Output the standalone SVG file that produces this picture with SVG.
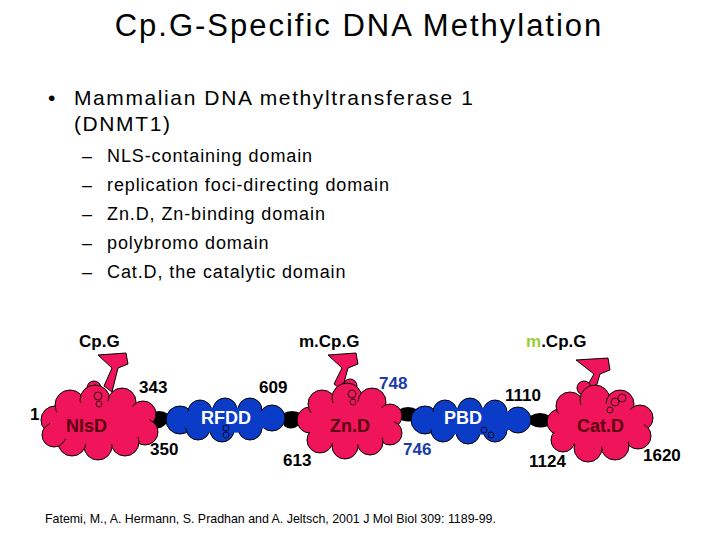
<svg xmlns="http://www.w3.org/2000/svg" width="720" height="540" viewBox="0 0 720 540">
<defs>
<style>
text{font-family:"Liberation Sans",Arial,sans-serif}
.t{font-size:18px;fill:#000;letter-spacing:0.9px}
.lb{font-size:17px;font-weight:bold;fill:#000}
.bl{font-size:17px;font-weight:bold;fill:#1a3caa}
.dn{font-size:18px;font-weight:bold;fill:#5a0010}
.dw{font-size:18px;font-weight:bold;fill:#fff}
.pk circle{fill:#f0145a;stroke:#000;stroke-width:1}
.pkf{fill:#f0145a}
.bu circle{fill:#0a3cc8;stroke:#000;stroke-width:1}
.buf{fill:#0a3cc8}
.link{fill:#000}
.dna{fill:#f0145a;stroke:#000;stroke-width:1}
.ring{fill:none;stroke:#000;stroke-width:0.8}
</style>
</defs>
<text x="359" y="36" font-size="31" text-anchor="middle" letter-spacing="2">Cp.G-Specific DNA Methylation</text>
<text x="48" y="105" font-size="21">•</text>
<text x="74" y="105" font-size="21" letter-spacing="1.6">Mammalian DNA methyltransferase 1</text>
<text x="74" y="131" font-size="21" letter-spacing="1.6">(DNMT1)</text>
<g class="t">
<text x="82" y="162">–</text><text x="107" y="162">NLS-containing domain</text>
<text x="82" y="191">–</text><text x="107" y="191">replication foci-directing domain</text>
<text x="82" y="220">–</text><text x="107" y="220">Zn.D, Zn-binding domain</text>
<text x="82" y="249">–</text><text x="107" y="249">polybromo domain</text>
<text x="82" y="278">–</text><text x="107" y="278">Cat.D, the catalytic domain</text>
</g>
<g id="connectors">
<path class="link" d="M148 414 Q160 408 168 414 L166 424 Q158 432 150 426 Z"/>
<path class="link" d="M282 414 Q292 408 302 414 L300 424 Q292 432 284 426 Z"/>
<path class="link" d="M398 410 Q408 404 418 410 L416 420 Q406 424 398 418 Z"/>
<path class="link" d="M530 416 Q540 410 550 416 L548 426 Q538 430 530 424 Z"/>
</g>
<g id="nlsd">
<path class="dna" d="M98 355 L126 353 L128 364 L118 368 L112 392 L104 386 L112 368 Z"/>
<circle class="dna" cx="94" cy="388" r="7"/>
<g class="pk">
<circle cx="55" cy="420" r="14"/><circle cx="70" cy="405" r="15"/><circle cx="95" cy="400" r="15"/><circle cx="122" cy="402" r="14"/><circle cx="143" cy="414" r="13"/><circle cx="145" cy="432" r="13"/><circle cx="125" cy="442" r="14"/><circle cx="98" cy="446" r="14"/><circle cx="72" cy="442" r="14"/><circle cx="54" cy="435" r="12"/>
</g>
<ellipse class="pkf" cx="100" cy="423" rx="50" ry="22"/>
<circle class="ring" cx="98" cy="396" r="4"/><circle class="ring" cx="99" cy="404" r="3"/>
<text x="66" y="432" class="dn">NlsD</text>
</g>
<g id="rfdd">
<g class="bu">
<circle cx="180" cy="420" r="14"/><circle cx="200" cy="412" r="12"/><circle cx="225" cy="410" r="12"/><circle cx="250" cy="410" r="12"/><circle cx="272" cy="418" r="13"/><circle cx="250" cy="428" r="12"/><circle cx="222" cy="430" r="12"/><circle cx="198" cy="428" r="12"/>
</g>
<ellipse class="buf" cx="225" cy="420" rx="50" ry="13"/>
<circle class="ring" cx="226" cy="428" r="3"/><circle class="ring" cx="226" cy="435" r="3"/>
<text x="201" y="424" class="dw">RFDD</text>
</g>
<g id="znd">
<path class="dna" d="M328 355 L356 353 L358 364 L348 368 L342 390 L334 384 L342 368 Z"/>
<circle class="dna" cx="350" cy="386" r="7"/>
<g class="pk">
<circle cx="310" cy="420" r="13"/><circle cx="322" cy="404" r="14"/><circle cx="347" cy="398" r="15"/><circle cx="372" cy="402" r="14"/><circle cx="390" cy="416" r="12"/><circle cx="390" cy="433" r="12"/><circle cx="370" cy="442" r="13"/><circle cx="345" cy="446" r="13"/><circle cx="320" cy="440" r="13"/>
</g>
<ellipse class="pkf" cx="350" cy="423" rx="44" ry="22"/>
<circle class="ring" cx="352" cy="394" r="4"/><circle class="ring" cx="353" cy="402" r="3"/>
<text x="330" y="432" class="dn">Zn.D</text>
</g>
<g id="pbd">
<g class="bu">
<circle cx="425" cy="420" r="14"/><circle cx="445" cy="412" r="12"/><circle cx="470" cy="410" r="12"/><circle cx="495" cy="412" r="12"/><circle cx="518" cy="420" r="13"/><circle cx="495" cy="430" r="12"/><circle cx="468" cy="432" r="12"/><circle cx="443" cy="430" r="12"/>
</g>
<ellipse class="buf" cx="470" cy="421" rx="50" ry="14"/>
<circle class="ring" cx="484" cy="430" r="3"/><circle class="ring" cx="491" cy="435" r="3"/>
<text x="444" y="424" class="dw">PBD</text>
</g>
<g id="catd">
<path class="dna" d="M576 360 L608 358 L610 370 L600 374 L594 394 L586 388 L594 374 Z"/>
<circle class="dna" cx="584" cy="388" r="7"/>
<g class="pk">
<circle cx="560" cy="422" r="13"/><circle cx="570" cy="406" r="14"/><circle cx="595" cy="400" r="15"/><circle cx="620" cy="404" r="14"/><circle cx="640" cy="418" r="13"/><circle cx="638" cy="436" r="13"/><circle cx="615" cy="446" r="14"/><circle cx="588" cy="448" r="14"/><circle cx="563" cy="440" r="12"/>
</g>
<ellipse class="pkf" cx="598" cy="425" rx="46" ry="22"/>
<circle class="ring" cx="615" cy="402" r="4"/><circle class="ring" cx="610" cy="410" r="3"/><circle class="ring" cx="622" cy="398" r="4"/>
<text x="577" y="432" class="dn">Cat.D</text>
</g>
<g id="labels">
<text x="79" y="347" class="lb">Cp.G</text>
<text x="299" y="347" class="lb">m.Cp.G</text>
<text x="526" y="347" class="lb"><tspan fill="#9acd32">m</tspan>.Cp.G</text>
<text x="30" y="420" class="lb">1</text>
<text x="139" y="393" class="lb">343</text>
<text x="150" y="455" class="lb">350</text>
<text x="259" y="393" class="lb">609</text>
<text x="283" y="466" class="lb">613</text>
<text x="379" y="389" class="bl">748</text>
<text x="403" y="455" class="bl">746</text>
<text x="505" y="401" class="lb">1110</text>
<text x="529" y="467" class="lb">1124</text>
<text x="643" y="461" class="lb">1620</text>
</g>
<text x="45" y="523" font-size="12.4">Fatemi, M., A. Hermann, S. Pradhan and A. Jeltsch, 2001 J Mol Biol 309: 1189-99.</text>
</svg>
